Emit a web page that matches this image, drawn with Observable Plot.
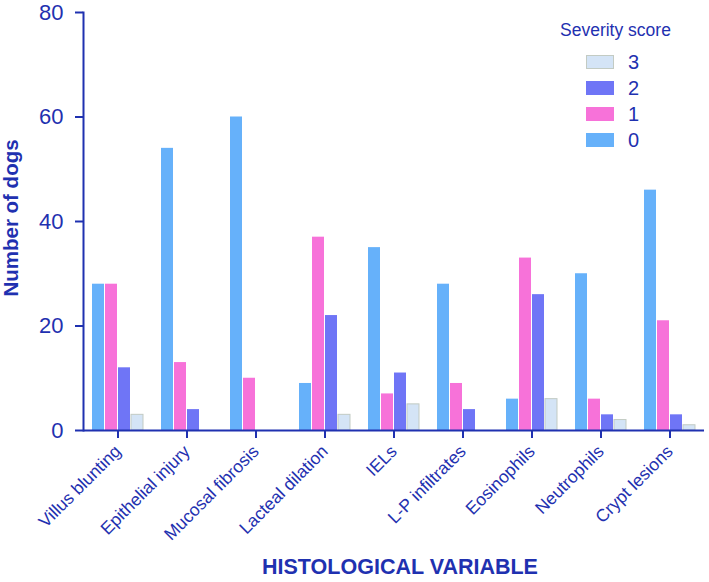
<!DOCTYPE html>
<html>
<head>
<meta charset="utf-8">
<script src="https://cdn.jsdelivr.net/npm/d3@7"></script>
<script src="https://cdn.jsdelivr.net/npm/@observablehq/plot@0.6"></script>
<style>
  html, body { margin: 0; padding: 0; background: #fff; }
  #wrap { position: relative; width: 709px; height: 582px; font-family: "Liberation Sans", Arial, Helvetica, sans-serif; color: #1f31b0; }
  .ovl { position: absolute; white-space: nowrap; }
  #ylab { left: 11px; top: 218px; font-weight: bold; font-size: 20.5px; transform: translate(-50%, -50%) rotate(-90deg); }
  #xlab { left: 400px; top: 555px; font-weight: bold; font-size: 21.5px; transform: translateX(-50%); }
  #legtitle { left: 560px; top: 20px; font-size: 17.5px; }
  .sw { position: absolute; left: 586px; width: 28px; height: 14px; }
  .swl { position: absolute; left: 628px; font-size: 20px; line-height: 20px; }
</style>
</head>
<body>
<div id="wrap">
  <div id="chart"></div>
</div>
<script>
const categories = ["Villus blunting", "Epithelial injury", "Mucosal fibrosis", "Lacteal dilation", "IELs", "L-P infiltrates", "Eosinophils", "Neutrophils", "Crypt lesions"];
const score0 = [28, 54, 60, 9, 35, 28, 6, 30, 46];
const score1 = [28, 13, 10, 37, 7, 9, 33, 6, 21];
const score2 = [12, 4, 0, 22, 11, 4, 26, 3, 3];
const score3 = [3, 0, 0, 3, 5, 0, 6, 2, 1];
const scores = ["0", "1", "2", "3"];
const colors = ["#66b1fa", "#f772d9", "#6f75f6", "#d4e4f6"];
const yTicks = [0, 20, 40, 60, 80];
const legendOrder = ["3", "2", "1", "0"];

const axisColor = "#1f31b0";
const series = [score0, score1, score2, score3];
const data = categories.flatMap((c, i) => series.map((arr, j) => ({category: c, score: scores[j], count: arr[i]})));

const chart = Plot.plot({
  width: 709,
  height: 582,
  marginTop: 12,
  marginBottom: 152,
  marginLeft: 80,
  marginRight: 2,
  style: {fontFamily: "'Liberation Sans', Arial, Helvetica, sans-serif", color: axisColor, background: "white"},
  fx: {domain: categories, padding: 0, axis: null},
  x: {domain: scores, insetLeft: 7, insetRight: 7, paddingInner: 0.06, paddingOuter: 0, axis: null},
  y: {domain: [0, 80], axis: null},
  color: {domain: scores, range: colors},
  marks: [
    Plot.barY(data, {fx: "category", x: "score", y: "count", fill: "score"}),
    Plot.barY(data.filter(d => d.score === "3" && d.count > 0), {fx: "category", x: "score", y: "count", fill: "score", stroke: "#c3cbc3", strokeWidth: 1}),
    Plot.ruleY([0], {stroke: axisColor, strokeWidth: 2}),
    Plot.frame({anchor: "left", facetAnchor: "left", stroke: axisColor, strokeWidth: 2}),
    Plot.axisY({ticks: yTicks, tickSize: 8, tickPadding: 12, fontSize: 22, label: null, stroke: axisColor, fill: axisColor, strokeWidth: 2}),
    Plot.axisFx({anchor: "bottom", tickRotate: -45, tickSize: 8, tickPadding: 10, fontSize: 17.5, label: null, stroke: axisColor, fill: axisColor, strokeWidth: 2})
  ]
});
document.getElementById("chart").appendChild(chart);

const wrap = document.getElementById("wrap");
function addDiv(id, cls, text, styles) {
  const d = document.createElement("div");
  if (id) d.id = id;
  d.className = cls;
  d.textContent = text;
  Object.assign(d.style, styles || {});
  wrap.appendChild(d);
  return d;
}
addDiv("ylab", "ovl", "Number of dogs");
addDiv("xlab", "ovl", "HISTOLOGICAL VARIABLE");
addDiv("legtitle", "ovl", "Severity score");
legendOrder.forEach((s, i) => {
  const col = colors[scores.indexOf(s)];
  addDiv(null, "sw", "", {top: (55 + i * 26) + "px", background: col, boxSizing: "border-box", border: s === "3" ? "1px solid #c3cbc3" : "none"});
  addDiv(null, "swl", s, {top: (52 + i * 26) + "px"});
});
</script>
</body>
</html>
